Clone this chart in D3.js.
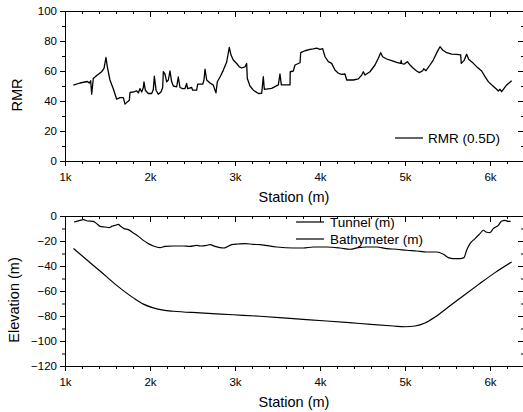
<!DOCTYPE html>
<html><head><meta charset="utf-8">
<script src="https://cdn.jsdelivr.net/npm/d3@7"></script>
<style>
html,body{margin:0;padding:0;background:#fff;}
svg{display:block;font-family:Arial,"Liberation Sans",sans-serif;}
</style></head>
<body><svg id="c" width="523" height="412"></svg>
<script>
// ---- data ----
const xMajorTicks = [1000, 2000, 3000, 4000, 5000, 6000];
const rmrTicks = [0, 20, 40, 60, 80, 100];
const elevTicks = [0, -20, -40, -60, -80, -100, -120];

const rmrStation = [1098,1176,1263,1286,1302,1314,1333,1373,1431,1459,1482,1498,1529,1569,1608,1647,1686,1706,1733,1757,1765,1804,1843,1863,1882,1902,1922,1929,1945,1980,2020,2039,2051,2071,2098,2129,2149,2157,2176,2196,2216,2235,2255,2275,2314,2333,2353,2384,2412,2431,2443,2490,2502,2549,2561,2620,2635,2647,2667,2706,2745,2765,2776,2792,2824,2863,2902,2933,2953,2980,3020,3051,3078,3118,3137,3145,3176,3216,3275,3314,3333,3345,3431,3510,3529,3545,3647,3650,3686,3706,3765,3773,3824,3882,3921,3961,4000,4031,4059,4098,4137,4176,4216,4255,4294,4314,4392,4451,4490,4510,4529,4588,4647,4686,4714,4737,4784,4843,4902,4949,4955,4961,4988,5027,5059,5098,5137,5169,5208,5220,5247,5294,5333,5380,5412,5443,5490,5549,5608,5655,5662,5694,5725,5749,5804,5843,5902,5941,5980,6031,6078,6098,6118,6137,6196,6255];
const rmrValue = [50.6,52,53,52,53.5,44.5,55,57,59.5,61.7,69,62.8,54,48,41.2,42.3,42.3,37.9,39.4,40.5,45.7,46,46.8,45.4,48.3,46,49,52.8,47.2,45,45,47.7,56.6,47.2,44.5,46,49,59.5,58,52.8,54,60,52.8,50,49.4,56,49,48.3,48.3,51.7,48.3,49,47.2,47.2,51.2,51.2,54,61.2,54,52,50.6,47.2,45.4,52.8,56,60.6,66,75.7,70.6,67.3,65,62.8,62,62.8,65,55,50,47.2,45,45.1,56.2,47.8,48.4,50.7,58,50.7,50.7,59.5,60,64,65.5,72.2,73.5,74.4,74.7,75.3,74.4,74.9,69.5,66.2,65.1,60.7,58.5,57.8,58,54,54,54.7,57.3,59.5,57.3,59.5,64,68.5,72.2,69.5,68,66.9,65.8,65.1,67,65,64.5,66.2,64,61.8,60,58.9,60.2,61.5,60.2,64,67.3,72.9,76.2,74,72.2,71.3,71.1,70.7,65.1,66.9,71.1,67.8,65.1,62.9,60,56.2,52.9,50.2,47.8,46.7,47.8,46.2,50.7,53.5];

const bathyStation = [1106,1176,1216,1263,1333,1373,1412,1471,1522,1549,1588,1627,1655,1694,1745,1804,1863,1922,1980,2039,2118,2176,2275,2392,2471,2549,2588,2667,2706,2765,2824,2871,2902,2961,3039,3118,3216,3294,3490,3686,3804,3922,4078,4235,4353,4451,4549,4667,4784,4902,5020,5137,5255,5373,5451,5510,5569,5647,5694,5725,5765,5824,5882,5922,5953,6000,6039,6098,6137,6176,6216,6243];
const bathyElev = [-4.8,-3.5,-2.9,-4,-4.3,-6.1,-8.3,-8.8,-9.3,-8.3,-7.5,-6.7,-8.3,-10.1,-10.9,-13.6,-16.3,-19.5,-22.1,-24,-25.3,-24.3,-24,-24,-24.3,-23.5,-24,-23.5,-22.9,-24.3,-25.3,-25.6,-24.8,-22.9,-22.4,-22.1,-22.7,-22.9,-24.8,-25.6,-25.6,-24.8,-24.8,-25.6,-26.6,-25.3,-24.8,-24.8,-26.1,-26.6,-27.4,-28,-28.8,-28.8,-30.6,-33.3,-34.1,-34.1,-33.3,-27.4,-22.1,-18.1,-14.1,-11.4,-12.8,-13.3,-10.1,-7.5,-4,-3.5,-4.3,-4.3];

const tunnelStation = [1100,1255,1412,1608,1804,1922,2039,2157,2275,2588,2980,3294,3686,4078,4471,4863,5000,5118,5235,5353,5510,5667,5863,6059,6255];
const tunnelElev = [-26,-35,-44,-55.5,-65.5,-70.5,-73.5,-75.3,-76.2,-77.5,-79,-80.2,-82.1,-84,-86,-88,-88.6,-88,-85.6,-80.8,-72.8,-64.8,-54.9,-45.3,-36.8];

// ---- drawing ----
const svg = d3.select("#c");
const X0 = 65, X1 = 524;
const x = d3.scaleLinear().domain([1000, 6400]).range([X0, X1]);
const xMinor = d3.range(1000, 6401, 200);
const kfmt = d => (d / 1000) + "k";

function panel(top, bottom, yDomain, yMajor, yMinor, yTitle, titleY) {
  const y = d3.scaleLinear().domain(yDomain).range([bottom, top]);
  const g = svg.append("g");
  // minor ticks
  g.append("g").attr("transform", `translate(0,${bottom})`)
    .call(d3.axisBottom(x).tickValues(xMinor).tickSize(3).tickSizeOuter(0).tickFormat(""));
  g.append("g").attr("transform", `translate(0,${top})`)
    .call(d3.axisBottom(x).tickValues(xMinor).tickSize(3).tickSizeOuter(0).tickFormat(""));
  g.append("g").attr("transform", `translate(${X0},0)`)
    .call(d3.axisLeft(y).tickValues(yMinor).tickSize(3).tickSizeOuter(0).tickFormat(""));
  g.append("g").attr("transform", `translate(${X1},0)`)
    .call(d3.axisLeft(y).tickValues(yMinor).tickSize(3).tickSizeOuter(0).tickFormat(""));
  // major
  const bx = g.append("g").attr("transform", `translate(0,${bottom})`)
    .call(d3.axisBottom(x).tickValues(xMajorTicks).tickSize(5).tickSizeOuter(0).tickFormat(kfmt));
  bx.selectAll("text").attr("font-size", 11.5).attr("y", 11.5).attr("dy", "0.71em");
  g.append("g").attr("transform", `translate(0,${top})`)
    .call(d3.axisBottom(x).tickValues(xMajorTicks).tickSize(6).tickSizeOuter(0).tickFormat(""));
  const ly = g.append("g").attr("transform", `translate(${X0},0)`)
    .call(d3.axisLeft(y).tickValues(yMajor).tickSize(5).tickSizeOuter(0));
  ly.selectAll("text").attr("font-size", 11.5).attr("x", -8);
  g.append("g").attr("transform", `translate(${X1},0)`)
    .call(d3.axisLeft(y).tickValues(yMajor).tickSize(6).tickSizeOuter(0).tickFormat(""));
  g.selectAll(".domain").attr("stroke", "#000");
  g.selectAll(".tick line").attr("stroke", "#000");
  g.selectAll(".tick text").attr("fill", "#000").attr("font-family", "Arial, 'Liberation Sans', sans-serif");
  // titles
  svg.append("text").attr("transform", `translate(${titleY.x},${titleY.y}) rotate(-90)`)
    .attr("text-anchor", "middle").attr("font-size", 14.5).text(yTitle);
  svg.append("text").attr("x", 294).attr("y", bottom + 41)
    .attr("text-anchor", "middle").attr("font-size", 14.5).text("Station (m)");
  return {y, g};
}

const line = (xs, ys, y, curve) => d3.line().x((d, i) => x(xs[i])).y((d, i) => y(ys[i])).curve(curve)(xs);

// top panel
const p1 = panel(11, 161, [0, 100], rmrTicks, d3.range(0, 101, 10), "RMR", {x: 22, y: 95});
svg.append("path").attr("d", line(rmrStation, rmrValue, p1.y, d3.curveLinear))
  .attr("fill", "none").attr("stroke", "#000").attr("stroke-width", 1.3).attr("stroke-linejoin", "round");
svg.append("line").attr("x1", 395).attr("x2", 423).attr("y1", 138).attr("y2", 138).attr("stroke", "#000").attr("stroke-width", 1.2);
svg.append("text").attr("x", 428).attr("y", 142.5).attr("font-size", 13.5).text("RMR (0.5D)");

// bottom panel
const p2 = panel(216, 366, [-120, 0], elevTicks, d3.range(-120, 1, 10), "Elevation (m)", {x: 19, y: 300});
svg.append("path").attr("d", line(bathyStation, bathyElev, p2.y, d3.curveMonotoneX))
  .attr("fill", "none").attr("stroke", "#000").attr("stroke-width", 1.2);
svg.append("path").attr("d", line(tunnelStation, tunnelElev, p2.y, d3.curveMonotoneX))
  .attr("fill", "none").attr("stroke", "#000").attr("stroke-width", 1.2);
const leg = svg.insert("g", ":first-child");
leg.append("line").attr("x1", 296).attr("x2", 324).attr("y1", 222).attr("y2", 222).attr("stroke", "#000").attr("stroke-width", 1.2);
leg.append("text").attr("x", 330).attr("y", 227).attr("font-size", 13.5).text("Tunnel (m)");
leg.append("line").attr("x1", 296).attr("x2", 324).attr("y1", 239).attr("y2", 239).attr("stroke", "#000").attr("stroke-width", 1.2);
leg.append("text").attr("x", 330).attr("y", 244).attr("font-size", 13.5).text("Bathymeter (m)");
</script></body></html>
